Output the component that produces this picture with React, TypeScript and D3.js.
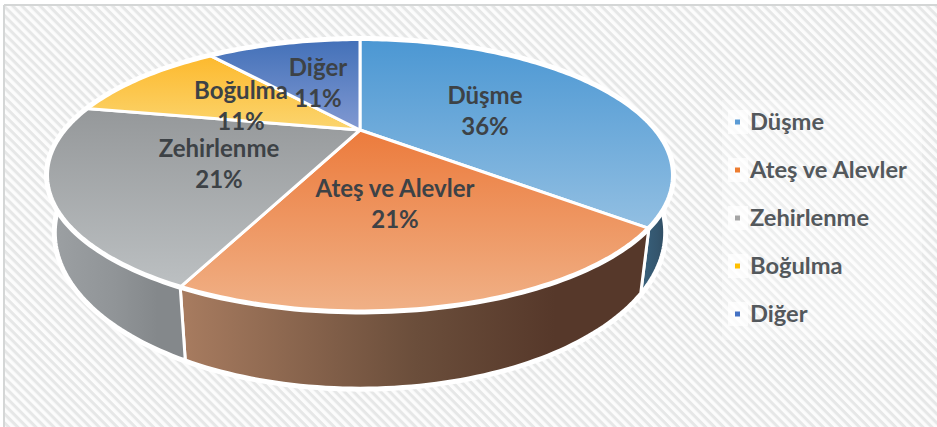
import React from "react";
import * as d3 from "d3";

// Causes of injury, share of cases in percent
const categories = ["Düşme", "Ateş ve Alevler", "Zehirlenme", "Boğulma", "Diğer"];
const shares = [36, 21, 21, 11, 11];
const topStart = ["#4b97d3", "#ec7b3c", "#95989a", "#fdb92d", "#4270b8"];
const topEnd = ["#92bfe2", "#f0b187", "#bcc0c2", "#fbd56f", "#8199d2"];
const wallStart = ["#38617d", "#a87c60", "#9da1a4", "#b08a30", "#30528a"];
const wallMiddle = ["#34566e", "#6b4e3b", "#909497", "#98762a", "#2a4a7c"];
const wallEnd = ["#2f4b60", "#56382a", "#84888b", "#806420", "#25406c"];
const markerColors = ["#5b9bd5", "#ed7d31", "#a5a5a5", "#ffc000", "#4472c4"];

const WIDTH = 937;
const HEIGHT = 427;

// Perspective set-up for the tilted disc
const CX = 360;
const CY = 130;
const RX = 295.8;
const RY = 121.7;
const PERSP = 0.331;
const DEPTH = 51;
const BASE_SHRINK = 0.972;

// Centre of each two-line data label
const labelCentres: [number, number][] = [
  [485, 112],
  [395, 205],
  [219, 165],
  [241, 107],
  [318, 84],
];

type Pt = [number, number];

function rim(angle: number): Pt {
  const X = Math.sin(angle);
  const Y = -Math.cos(angle);
  const d = 1 - PERSP * Y;
  return [CX + (RX * X) / d, CY + (RY * Y) / d];
}

function base(angle: number): Pt {
  const [x, y] = rim(angle);
  const d = 1 + PERSP * Math.cos(angle);
  return [CX + BASE_SHRINK * (x - CX), y + DEPTH / d];
}

const line = d3.line<Pt>().curve(d3.curveLinear);

function arcPoints(a0: number, a1: number, fn: (a: number) => Pt): Pt[] {
  const n = Math.max(2, Math.ceil(Math.abs(a1 - a0) / 0.02));
  return d3.range(n + 1).map((i) => fn(a0 + ((a1 - a0) * i) / n));
}

const slices = d3
  .pie<number>()
  .sort(null)
  .value((d) => d)(shares);

const legendY = d3
  .scalePoint<string>()
  .domain(categories)
  .range([122, 314]);

export default function App() {
  // Only walls facing the viewer are drawn
  const frontFrom = Math.PI / 2;
  const frontTo = (3 * Math.PI) / 2;
  const walls = slices
    .map((s, i) => ({
      i,
      a0: Math.max(s.startAngle, frontFrom),
      a1: Math.min(s.endAngle, frontTo),
    }))
    .filter((w) => w.a1 > w.a0);

  return (
    <svg
      width={WIDTH}
      height={HEIGHT}
      viewBox={`0 0 ${WIDTH} ${HEIGHT}`}
      style={{ position: "fixed", left: 0, top: 0, display: "block", background: "#fff" }}
      fontFamily="Lato, 'Open Sans', sans-serif"
    >
      <defs>
        <pattern
          id="stripes"
          width="6.4"
          height="6.4"
          patternUnits="userSpaceOnUse"
          patternTransform="rotate(45)"
        >
          <rect width="6.4" height="6.4" fill="#fcfcfc" />
          <rect width="6.4" height="3" fill="#e6e7e7" />
        </pattern>
        {slices.map((_, i) => (
          <linearGradient key={`t${i}`} id={`top${i}`} x1="0" y1="0" x2="0" y2="1">
            <stop offset="0" stopColor={topStart[i]} />
            <stop offset="1" stopColor={topEnd[i]} />
          </linearGradient>
        ))}
        {slices.map((_, i) => (
          <linearGradient key={`w${i}`} id={`wall${i}`} x1="0" y1="0" x2="1" y2="0">
            <stop offset="0" stopColor={wallStart[i]} />
            <stop offset="0.5" stopColor={wallMiddle[i]} />
            <stop offset="0.8" stopColor={wallEnd[i]} />
            <stop offset="1" stopColor={wallEnd[i]} />
          </linearGradient>
        ))}
      </defs>

      {/* Chart area with its top and left rules */}
      <rect x={4} y={5} width={WIDTH - 4} height={HEIGHT - 5} fill="url(#stripes)" />
      <line x1={4} y1={5} x2={WIDTH} y2={5} stroke="#d4d6d6" strokeWidth={2} />
      <line x1={4} y1={5} x2={4} y2={HEIGHT} stroke="#d4d6d6" strokeWidth={2} />

      {/* White edge running round the lower rim */}
      <path
        d={line(arcPoints(frontFrom, frontTo, base)) ?? ""}
        fill="none"
        stroke="#fff"
        strokeWidth={7}
        strokeLinecap="round"
      />

      {/* Side walls */}
      {walls.map((w) => {
        const pts = [
          ...arcPoints(w.a0, w.a1, rim),
          ...arcPoints(w.a1, w.a0, base),
        ];
        return (
          <path
            key={`wall-${w.i}`}
            d={line(pts) + "Z"}
            fill={`url(#wall${w.i})`}
            stroke="#fff"
            strokeWidth={3}
            strokeLinejoin="round"
          />
        );
      })}

      {/* Top faces */}
      {slices.map((s, i) => {
        const pts = [[CX, CY] as Pt, ...arcPoints(s.startAngle, s.endAngle, rim)];
        return (
          <path
            key={`top-${i}`}
            d={line(pts) + "Z"}
            fill={`url(#top${i})`}
            stroke="#fff"
            strokeWidth={3}
            strokeLinejoin="round"
          />
        );
      })}

      {/* Heavier white edge on the upper rim */}
      <path
        d={line(arcPoints(0, 2 * Math.PI, rim)) + "Z"}
        fill="none"
        stroke="#fff"
        strokeWidth={5}
      />

      {/* Data labels */}
      {slices.map((s, i) => (
        <text
          key={`label-${i}`}
          x={labelCentres[i][0]}
          y={labelCentres[i][1]}
          textAnchor="middle"
          fontSize={24}
          fontWeight={700}
          fill="#3d4246"
        >
          <tspan x={labelCentres[i][0]} dy={-8}>{categories[i]}</tspan>
          <tspan x={labelCentres[i][0]} dy={31}>{`${s.data}%`}</tspan>
        </text>
      ))}

      {/* Legend */}
      <rect x={722} y={100} width={200} height={240} fill="#fff" opacity={0.3} />
      {categories.map((c, i) => {
        const y = legendY(c) as number;
        return (
          <g key={`legend-${i}`}>
            <rect x={728} y={y - 12} width={20} height={24} fill="#fff" opacity={0.7} />
            <rect x={735} y={y - 2.5} width={5} height={5} fill={markerColors[i]} />
            <text x={750} y={y + 7.5} fontSize={23.7} fontWeight={700} fill="#53585c">
              {c}
            </text>
          </g>
        );
      })}
    </svg>
  );
}
